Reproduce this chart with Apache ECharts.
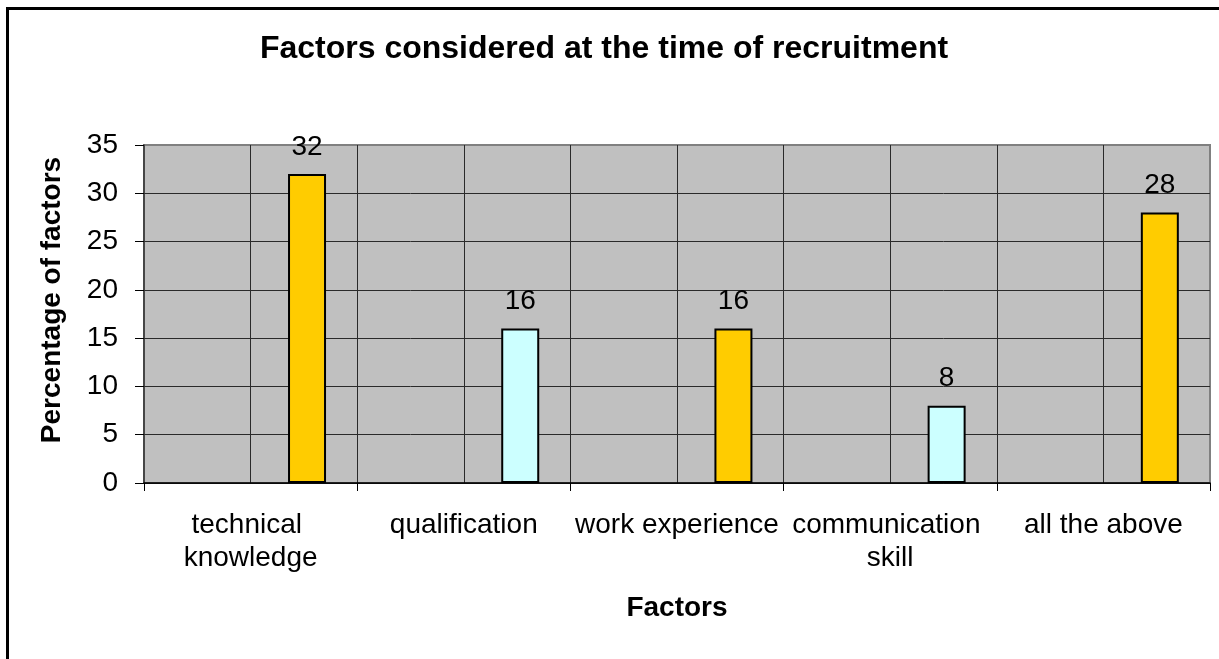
<!DOCTYPE html>
<html>
<head>
<meta charset="utf-8">
<script src="https://cdn.jsdelivr.net/npm/echarts@6/dist/echarts.min.js"></script>
<style>
  html,body{margin:0;padding:0;background:#fff;}
  #chart{width:1219px;height:659px;}
</style>
</head>
<body>
<div id="chart"></div>
<script>
// data
const categories = ['technical knowledge', 'qualification', 'work experience', 'communication skill', 'all the above'];
const percentages = [32, 16, 16, 8, 28];
const emptySeries = [null, null, null, null, null]; // first (blank) series in the original sheet
const yTicks = {min: 0, max: 35, interval: 5};
const barColors = ['#FFCC00', '#CCFFFF'];

const FONT = 'Arial, "Liberation Sans", sans-serif';
const myChart = echarts.init(document.getElementById('chart'));

// half-category grid lines come from a hidden helper axis
const halfSlots = [];
for (let i = 0; i < categories.length * 2; i++) halfSlots.push('');

myChart.setOption({
    backgroundColor: '#ffffff',
    animation: false,
    title: {
        text: 'Factors considered at the time of recruitment',
        left: 599, top: 28, textAlign: 'center',
        textStyle: {fontFamily: FONT, fontSize: 32, fontWeight: 'bold', color: '#000'}
    },
    graphic: [{
        type: 'rect', silent: true, z: 100,
        shape: {x: 7.5, y: 8.5, width: 1300, height: 700},
        style: {fill: 'none', stroke: '#000', lineWidth: 3}
    }],
    grid: {
        left: 144, right: 9, top: 145, bottom: 176,
        show: true, backgroundColor: '#C0C0C0', borderColor: '#808080', borderWidth: 2
    },
    xAxis: [{
        type: 'category', data: categories,
        name: 'Factors', nameLocation: 'middle', nameGap: 111,
        nameTextStyle: {fontFamily: FONT, fontSize: 28, fontWeight: 'bold', color: '#000'},
        axisLine: {lineStyle: {color: '#000', width: 1.5}},
        axisTick: {show: true, length: 8, lineStyle: {color: '#000'}},
        axisLabel: {
            interval: 0, margin: 26, width: 210, overflow: 'break',
            fontFamily: FONT, fontSize: 28, lineHeight: 33, color: '#000'
        },
        splitLine: {show: false}
    }, {
        type: 'category', data: halfSlots, position: 'bottom',
        axisLine: {show: false}, axisTick: {show: false}, axisLabel: {show: false},
        splitLine: {show: true, showMinLine: false, showMaxLine: false, lineStyle: {color: '#2a2a2a', width: 1}}
    }],
    yAxis: {
        type: 'value', min: yTicks.min, max: yTicks.max, interval: yTicks.interval,
        name: 'Percentage of factors', nameLocation: 'middle', nameGap: 78, nameRotate: 90,
        nameTextStyle: {fontFamily: FONT, fontSize: 28, fontWeight: 'bold', color: '#000', padding: [0, 0, 0, 28]},
        axisLine: {show: true, lineStyle: {color: '#333', width: 1.5}},
        axisTick: {show: true, length: 9, lineStyle: {color: '#000'}},
        axisLabel: {margin: 26, fontFamily: FONT, fontSize: 28, color: '#000'},
        splitLine: {show: true, showMaxLine: false, lineStyle: {color: '#2a2a2a', width: 1}}
    },
    series: [{
        name: 'blank', type: 'bar', xAxisIndex: 0,
        data: emptySeries, barWidth: 38, barGap: '197%'
    }, {
        name: 'Percentage', type: 'bar', xAxisIndex: 0,
        data: percentages.map((v, i) => ({
            value: v,
            itemStyle: {color: barColors[i % 2]}
        })),
        barWidth: 38, barGap: '197%',
        itemStyle: {borderColor: '#000', borderWidth: 2},
        label: {
            show: true, position: 'top', distance: 13,
            fontFamily: FONT, fontSize: 28, color: '#000'
        },
        z: 3
    }]
});

window.addEventListener('resize', () => myChart.resize());
</script>
</body>
</html>
